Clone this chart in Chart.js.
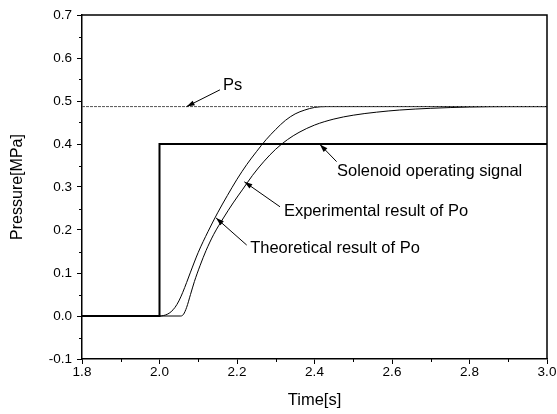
<!DOCTYPE html>
<html>
<head>
<meta charset="utf-8">
<script src="https://cdn.jsdelivr.net/npm/chart.js@4.4.1/dist/chart.umd.min.js"></script>
<style>
  html, body { margin: 0; padding: 0; background: #fff; }
</style>
</head>
<body>
<canvas id="pressureChart" width="557" height="414"></canvas>
<script>
// DATA
const psTime = [1.8, 3.0];
const psValue = [0.487, 0.487];

const solenoidTime = [1.8, 2.0, 2.0, 3.0];
const solenoidValue = [0, 0, 0.4, 0.4];

// curve that rises first and levels off sharply
const theoTime = [1.8, 2.0, 2.01, 2.02, 2.03, 2.04, 2.05, 2.06, 2.07, 2.08, 2.1, 2.125, 2.15, 2.175, 2.2, 2.225, 2.25, 2.275, 2.3, 2.325, 2.35, 2.375, 2.4, 2.43, 3.0];
const theoValue = [0, 0, 0.001, 0.004, 0.01, 0.02, 0.035, 0.055, 0.078, 0.102, 0.148, 0.196, 0.24, 0.28, 0.318, 0.352, 0.382, 0.41, 0.434, 0.455, 0.47, 0.479, 0.485, 0.487, 0.487];

// curve that starts later and creeps up to Ps
const expTime = [1.8, 2.055, 2.062, 2.07, 2.08, 2.09, 2.105, 2.12, 2.14, 2.165, 2.19, 2.215, 2.24, 2.27, 2.3, 2.33, 2.36, 2.4, 2.45, 2.5, 2.56, 2.62, 2.7, 2.8, 2.9, 3.0];
const expValue = [0, 0, 0.004, 0.02, 0.05, 0.08, 0.118, 0.152, 0.19, 0.228, 0.263, 0.295, 0.327, 0.36, 0.388, 0.41, 0.427, 0.444, 0.458, 0.467, 0.474, 0.479, 0.483, 0.486, 0.487, 0.487];

const xTicks = [1.8, 2.0, 2.2, 2.4, 2.6, 2.8, 3.0];
const yTicks = [-0.1, 0.0, 0.1, 0.2, 0.3, 0.4, 0.5, 0.6, 0.7];

// callouts: text, where the text sits, where the arrow leaves, where it points (all in data units)
const callouts = [
  { text: 'Ps', at: [2.164, 0.535], from: [2.156, 0.526], to: [2.07, 0.487] },
  { text: 'Solenoid operating signal', at: [2.458, 0.337], from: [2.457, 0.359], to: [2.414, 0.399] },
  { text: 'Experimental result of Po', at: [2.321, 0.244], from: [2.311, 0.254], to: [2.219, 0.312] },
  { text: 'Theoretical result of Po', at: [2.234, 0.158], from: [2.225, 0.165], to: [2.146, 0.228] }
];

const FONT = "'Liberation Sans', Arial, sans-serif";

function toPoints(xs, ys) {
  return xs.map((x, i) => ({ x: x, y: ys[i] }));
}

// top / right frame, minor ticks and the callouts
const framePlugin = {
  id: 'frame',
  afterDraw(chart) {
    const ctx = chart.ctx;
    const area = chart.chartArea;
    const xs = chart.scales.x;
    const ys = chart.scales.y;
    ctx.save();
    ctx.strokeStyle = '#000';
    ctx.lineWidth = 1.5;
    ctx.beginPath();
    ctx.moveTo(area.left, area.top);
    ctx.lineTo(area.right, area.top);
    ctx.lineTo(area.right, area.bottom);
    ctx.stroke();

    // minor ticks
    ctx.lineWidth = 1;
    ctx.beginPath();
    for (let i = 0; i < xTicks.length - 1; i++) {
      const px = Math.round(xs.getPixelForValue((xTicks[i] + xTicks[i + 1]) / 2)) + 0.5;
      ctx.moveTo(px, area.bottom);
      ctx.lineTo(px, area.bottom + 3);
    }
    for (let i = 0; i < yTicks.length - 1; i++) {
      const py = Math.round(ys.getPixelForValue((yTicks[i] + yTicks[i + 1]) / 2)) + 0.5;
      ctx.moveTo(area.left, py);
      ctx.lineTo(area.left - 3, py);
    }
    ctx.stroke();

    // callouts
    ctx.font = '16.5px ' + FONT;
    ctx.fillStyle = '#000';
    ctx.textBaseline = 'middle';
    ctx.textAlign = 'left';
    callouts.forEach(c => {
      const tx = xs.getPixelForValue(c.at[0]);
      const ty = ys.getPixelForValue(c.at[1]);
      ctx.fillText(c.text, tx, ty);
      const x1 = xs.getPixelForValue(c.from[0]);
      const y1 = ys.getPixelForValue(c.from[1]);
      const x2 = xs.getPixelForValue(c.to[0]);
      const y2 = ys.getPixelForValue(c.to[1]);
      ctx.beginPath();
      ctx.moveTo(x1, y1);
      ctx.lineTo(x2, y2);
      ctx.stroke();
      // arrow head
      const ang = Math.atan2(y2 - y1, x2 - x1);
      const len = 8, half = 2.6;
      ctx.beginPath();
      ctx.moveTo(x2, y2);
      ctx.lineTo(x2 - len * Math.cos(ang) + half * Math.sin(ang), y2 - len * Math.sin(ang) - half * Math.cos(ang));
      ctx.lineTo(x2 - len * Math.cos(ang) - half * Math.sin(ang), y2 - len * Math.sin(ang) + half * Math.cos(ang));
      ctx.closePath();
      ctx.fill();
    });
    ctx.restore();
  }
};

const ctx = document.getElementById('pressureChart').getContext('2d');
const pressureChart = new Chart(ctx, {
  type: 'line',
  data: {
    datasets: [
      {
        label: 'Ps',
        data: toPoints(psTime, psValue),
        borderColor: '#555',
        borderWidth: 1,
        borderDash: [3, 1],
        pointRadius: 0,
        tension: 0
      },
      {
        label: 'Solenoid operating signal',
        data: toPoints(solenoidTime, solenoidValue),
        borderColor: '#000',
        borderWidth: 2,
        pointRadius: 0,
        tension: 0
      },
      {
        label: 'Theoretical result of Po',
        data: toPoints(theoTime, theoValue),
        borderColor: '#000',
        borderWidth: 1,
        pointRadius: 0,
        cubicInterpolationMode: 'monotone'
      },
      {
        label: 'Experimental result of Po',
        data: toPoints(expTime, expValue),
        borderColor: '#000',
        borderWidth: 1,
        pointRadius: 0,
        cubicInterpolationMode: 'monotone'
      }
    ]
  },
  options: {
    responsive: false,
    animation: false,
    layout: { padding: { top: 15, right: 10, left: 0, bottom: 0 } },
    plugins: {
      legend: { display: false },
      tooltip: { enabled: false }
    },
    scales: {
      x: {
        type: 'linear',
        min: 1.8,
        max: 3.0,
        afterFit(scale) { scale.height = 55; },
        afterBuildTicks(scale) { scale.ticks = xTicks.map(v => ({ value: v })); },
        ticks: {
          color: '#000',
          font: { family: FONT, size: 13.5 },
          padding: 0,
          maxRotation: 0,
          callback: v => v.toFixed(1)
        },
        grid: { drawOnChartArea: false, color: '#000', tickLength: 5, lineWidth: 1 },
        border: { color: '#000', width: 1.5 },
        title: {
          display: true,
          text: 'Time[s]',
          color: '#000',
          font: { family: FONT, size: 16.5 },
          padding: { top: 0, bottom: 4 }
        }
      },
      y: {
        min: -0.1,
        max: 0.7,
        afterFit(scale) { scale.width = 82; },
        afterBuildTicks(scale) { scale.ticks = yTicks.map(v => ({ value: v })); },
        ticks: {
          color: '#000',
          font: { family: FONT, size: 13.5 },
          padding: 5,
          callback: v => v.toFixed(1)
        },
        grid: { drawOnChartArea: false, color: '#000', tickLength: 5, lineWidth: 1 },
        border: { color: '#000', width: 1.5 },
        title: {
          display: true,
          text: 'Pressure[MPa]',
          color: '#000',
          font: { family: FONT, size: 16 },
          padding: { top: 8, bottom: 0 }
        }
      }
    }
  },
  plugins: [framePlugin]
});
</script>
</body>
</html>
